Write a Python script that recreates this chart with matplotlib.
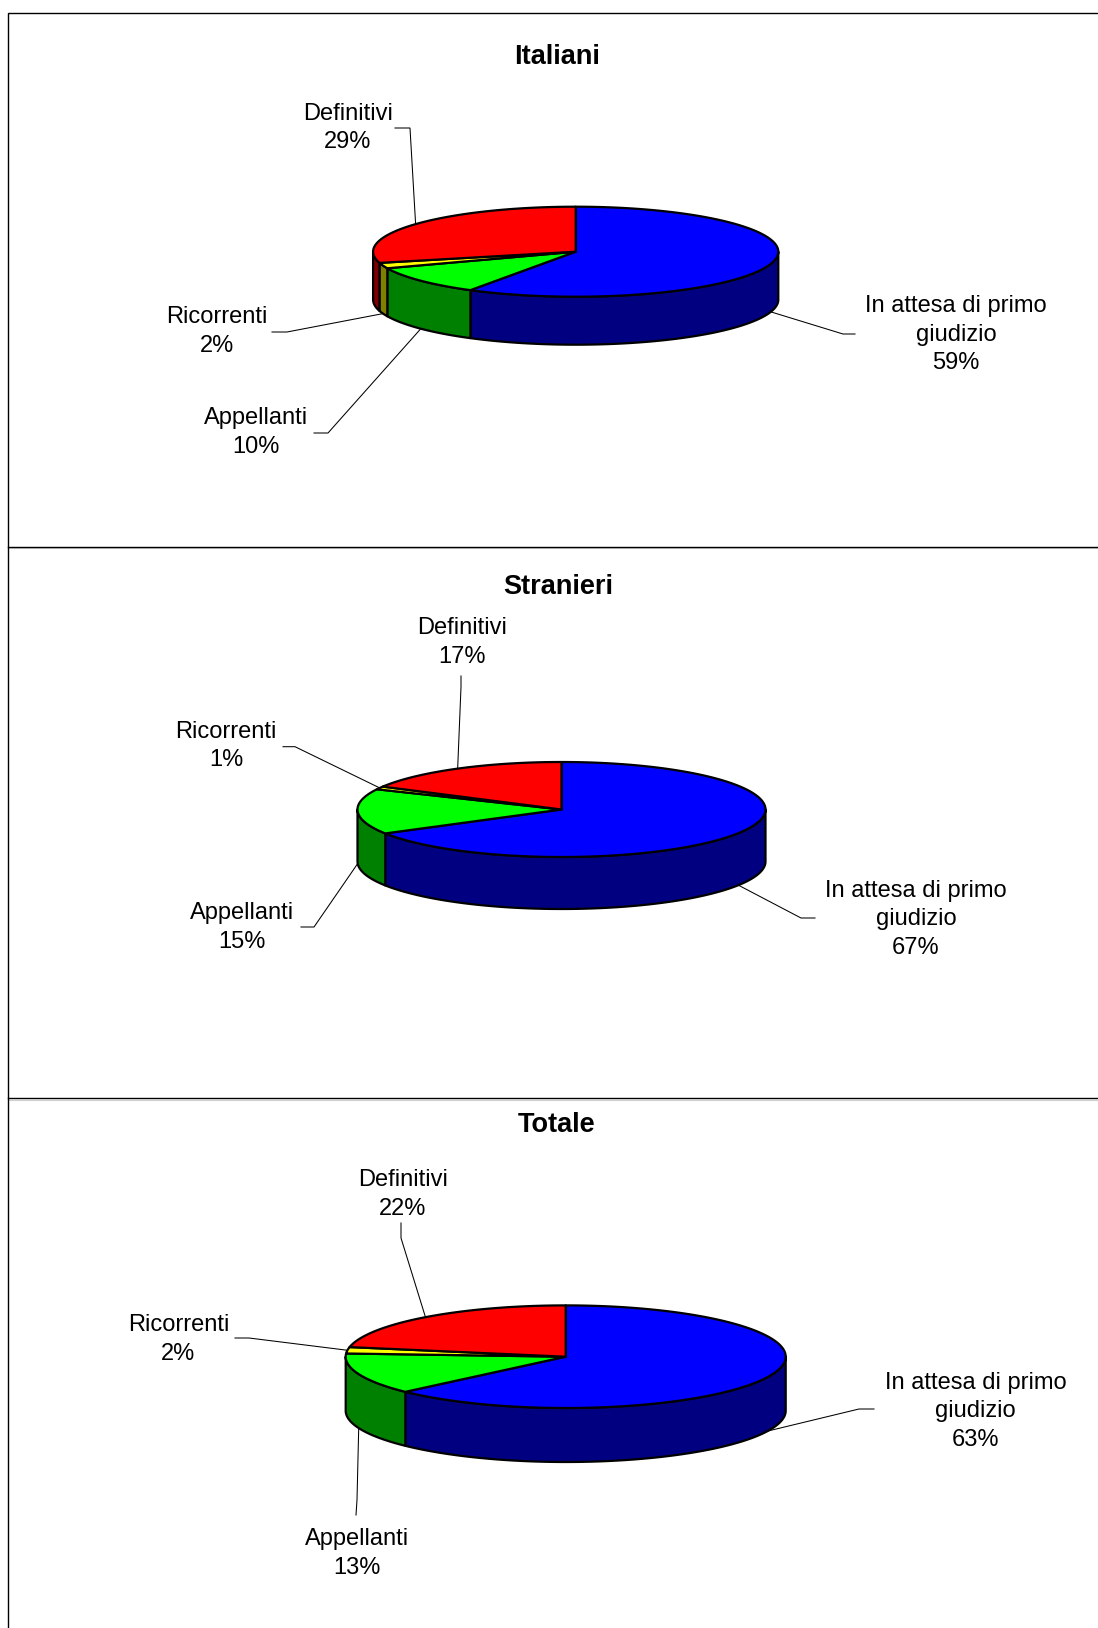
import numpy as np
import matplotlib
matplotlib.use("Agg")
import matplotlib.pyplot as plt

plt.rcParams['font.family'] = ['Liberation Sans', 'DejaVu Sans']

categories = ["In attesa di primo\ngiudizio", "Appellanti", "Ricorrenti", "Definitivi"]
italiani = [58.7, 10.3, 2, 29]
stranieri = [66.6, 15.4, 1, 17]
totale = [63, 13, 2, 22]
titles = ["Italiani", "Stranieri", "Totale"]

top_colors = ["#0000FF", "#00FF00", "#FFFF00", "#FF0000"]
wall_colors = ["#000080", "#008000", "#808000", "#800000"]

W, H = 1098, 1628
LW = 1.6
FS = 17
TEXT_DY = 2.5

panels = [
    dict(values=italiani, title=titles[0], title_xy=(557, 54),
         cx=575.7, cy=251.7, a=202.6, b=45, depth=48,
         labels=[(956, 332), (256, 430), (217, 329), (348, 125.6)],
         elbows=[[(855, 334), (843, 334)], [(314, 433), (328, 433)],
                 [(272, 332), (287, 332)], [(395, 128), (410, 128)]]),
    dict(values=stranieri, title=titles[1], title_xy=(558, 584.5),
         cx=561.5, cy=809.5, a=204, b=47.5, depth=52,
         labels=[(916, 917), (242, 925), (226, 743.6), (462, 640)],
         elbows=[[(815, 918), (801, 918)], [(301, 927), (314, 927)],
                 [(283, 746.7), (295, 746.7)], [(461, 676), (461, 687)]]),
    dict(values=totale, title=titles[2], title_xy=(557, 1122),
         cx=565.7, cy=1356.7, a=220, b=51.3, depth=54,
         labels=[(975.5, 1409), (357, 1551), (178.5, 1337), (403, 1192)],
         elbows=[[(874, 1409), (859, 1409)], [(356, 1515), (357, 1500)],
                 [(235, 1338), (249, 1338)], [(401, 1223), (401, 1238)]]),
]

fig = plt.figure(figsize=(W / 100, H / 100), dpi=100, facecolor="white")
ax = fig.add_axes([0, 0, 1, 1])
ax.set_xlim(0, W)
ax.set_ylim(H, 0)
ax.axis("off")


def pt(p, deg, drop=0.0):
    t = np.radians(deg)
    return p["cx"] + p["a"] * np.sin(t), p["cy"] - p["b"] * np.cos(t) + drop


def arc(p, d0, d1, drop=0.0):
    n = max(2, int(abs(d1 - d0) * 2) + 2)
    d = np.linspace(d0, d1, n)
    return pt(p, d, drop)


def draw_pie(p):
    vals = np.asarray(p["values"], float)
    edges = np.concatenate([[0], np.cumsum(vals)]) / vals.sum() * 360
    # side walls (only the front half of the disc is visible)
    for i in range(len(vals)):
        d0, d1 = max(edges[i], 90), min(edges[i + 1], 270)
        if d1 <= d0:
            continue
        xt, yt = arc(p, d0, d1)
        xb, yb = arc(p, d1, d0, p["depth"])
        ax.fill(np.r_[xt, xb], np.r_[yt, yb], facecolor=wall_colors[i],
                edgecolor="black", lw=LW, joinstyle="round", zorder=2)
    # top faces
    for i in range(len(vals)):
        x, y = arc(p, edges[i], edges[i + 1])
        ax.fill(np.r_[p["cx"], x], np.r_[p["cy"], y], facecolor=top_colors[i],
                edgecolor="black", lw=LW, joinstyle="round", zorder=3)
    # labels and leaders
    for i, cat in enumerate(categories):
        mid = (edges[i] + edges[i + 1]) / 2
        drop = p["depth"] if 90 < mid < 270 else 0
        ex, ey = pt(p, mid, drop)
        (x0, y0), (x1, y1) = p["elbows"][i]
        ax.plot([x0, x1, ex], [y0, y1, ey], color="black", lw=0.75, zorder=1,
                solid_joinstyle="miter")
        lx, ly = p["labels"][i]
        ax.text(lx, ly + TEXT_DY, f"{cat}\n{round(vals[i])}%", ha="center",
                va="center", fontsize=FS, linespacing=1.38, color="black",
                multialignment="center", zorder=5)
    tx, ty = p["title_xy"]
    ax.text(tx, ty + TEXT_DY, p["title"], ha="center", va="center",
            fontsize=19.5, fontweight="bold", color="black", zorder=5)


for p in panels:
    draw_pie(p)

# chart frames
ax.plot([W, 7.5, 7.5], [12.5, 12.5, H], color="black", lw=1.0, zorder=6,
        solid_joinstyle="miter")
for yy in (546.5, 1098):
    ax.plot([7.5, W], [yy + 1.5, yy + 1.5], color="#cfcfcf", lw=0.8, zorder=5)
    ax.plot([7.5, W], [yy, yy], color="black", lw=1.0, zorder=6)

fig.savefig("out.png", dpi=100, facecolor="white")
